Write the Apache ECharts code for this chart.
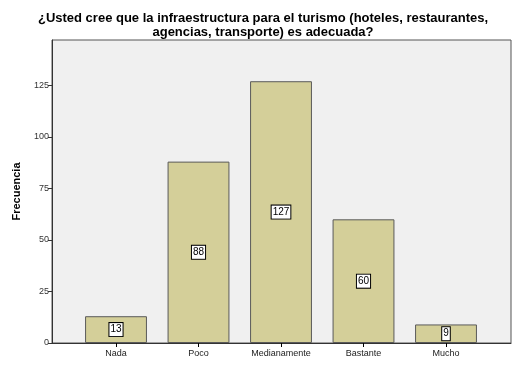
<!DOCTYPE html>
<html><head><meta charset="utf-8">
<script src="https://cdn.jsdelivr.net/npm/echarts@6/dist/echarts.min.js"></script>
<style>html,body{margin:0;padding:0;background:#fff}#c{width:521px;height:368px}</style>
</head><body><div id="c"></div>
<script>
const titleText = "¿Usted cree que la infraestructura para el turismo (hoteles, restaurantes,\nagencias, transporte) es adecuada?";
const yAxisName = "Frecuencia";
const categories = ["Nada", "Poco", "Medianamente", "Bastante", "Mucho"];
const values = [13, 88, 127, 60, 9];
const yMax = 147;
const yInterval = 25;

const FONT = "'Liberation Sans', Arial, sans-serif";
const chart = echarts.init(document.getElementById('c'), null, {renderer: 'canvas'});
chart.setOption({
  animation: false,
  backgroundColor: '#ffffff',
  title: {
    text: titleText,
    left: 258, top: 6, textAlign: 'center',
    textStyle: {fontFamily: FONT, fontSize: 13, fontWeight: 'bold', color: '#000', lineHeight: 14, align: 'center'}
  },
  grid: [
    {left: 52, right: 10, top: 40, bottom: 25, show: true, backgroundColor: '#f0f0f0', borderColor: '#555', borderWidth: 1},
    {left: 74.75, right: 33.75, top: 40, bottom: 25}
  ],
  xAxis: [
    {gridIndex: 0, type: 'category', data: [''], axisLine: {show: true, lineStyle: {color: '#333', width: 1}},
     axisTick: {show: false}, axisLabel: {show: false}, splitLine: {show: false}},
    {gridIndex: 1, type: 'category', data: categories, axisLine: {show: false},
     axisTick: {show: true, alignWithLabel: true, length: 4, lineStyle: {color: '#000'}},
     axisLabel: {fontFamily: FONT, fontSize: 9, color: '#222', margin: 6}}
  ],
  yAxis: [
    {gridIndex: 0, type: 'value', min: 0, max: yMax, interval: yInterval,
     name: yAxisName, nameLocation: 'middle', nameGap: 30, nameRotate: 90,
     nameTextStyle: {fontFamily: FONT, fontSize: 11, fontWeight: 'bold', color: '#000'},
     axisLine: {show: true, lineStyle: {color: '#333'}},
     axisTick: {show: true, length: 4, lineStyle: {color: '#333'}},
     axisLabel: {fontFamily: FONT, fontSize: 9, color: '#333', margin: 3, showMaxLabel: false,
       formatter: v => (v % yInterval === 0 ? String(v) : '')},
     splitLine: {show: false}},
    {gridIndex: 1, type: 'value', min: 0, max: yMax, interval: yInterval, show: false, splitLine: {show: false}}
  ],
  series: [{
    type: 'bar', xAxisIndex: 1, yAxisIndex: 1, data: values,
    barCategoryGap: '25%',
    itemStyle: {color: '#d4cf99', borderColor: '#5a5a5a', borderWidth: 1},
    label: {show: true, position: 'inside', fontFamily: FONT, fontSize: 10, color: '#000',
      backgroundColor: '#fff', borderColor: '#000', borderWidth: 1, padding: [2, 1, 1, 1]}
  }]
});
</script></body></html>
